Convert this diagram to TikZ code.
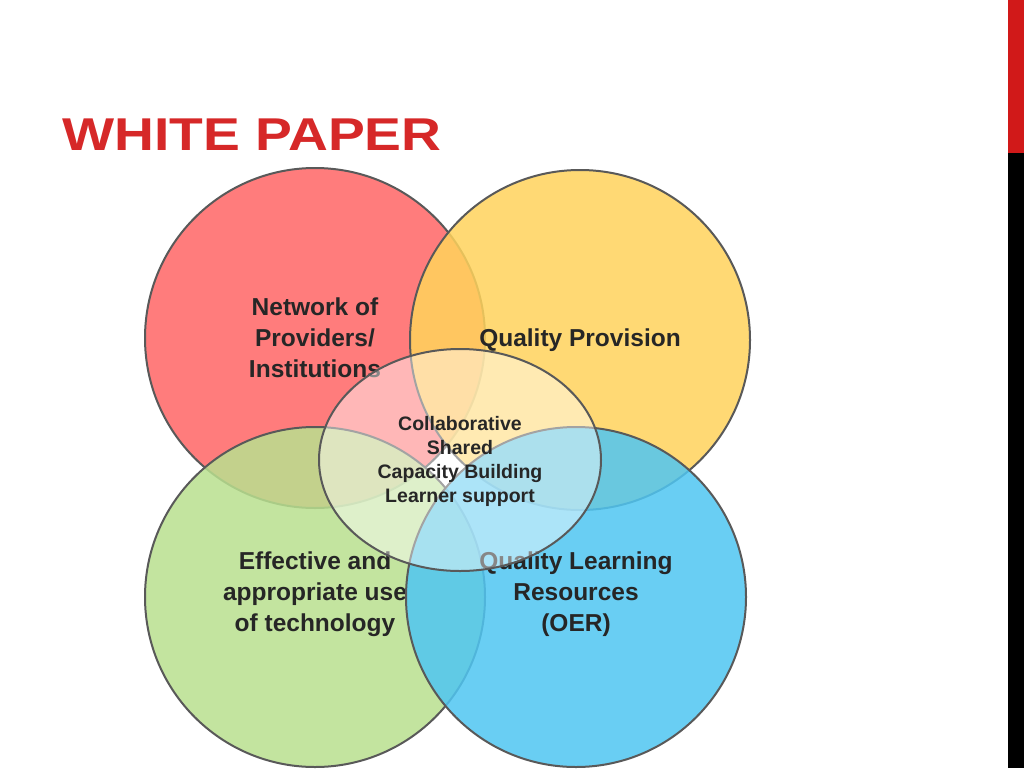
\documentclass[tikz,border=0pt]{standalone}
\usepackage{fontspec}
\setmainfont{Liberation Sans}
\begin{document}
\begin{tikzpicture}[x=1pt,y=-1pt,
  circ/.style={draw=black!65,line width=2pt,fill opacity=0.85},
  lab/.style={font=\bfseries\fontsize{24.5}{31}\selectfont,align=center,text=black!85},
  slab/.style={font=\bfseries\fontsize{19.5}{24}\selectfont,align=center,text=black!85}]
\useasboundingbox (0,0) rectangle (1024,768);
\fill[white] (0,0) rectangle (1024,768);
\fill[red!80!black!90] (1008,0) rectangle (1024,153);
\fill[black] (1008,153) rectangle (1024,768);
\node[anchor=west,font=\bfseries\fontsize{46}{46}\selectfont,text={rgb,255:red,214;green,40;blue,40},xscale=1.2,inner sep=0pt] (title) at (62,135) {WHITE PAPER};
\definecolor{cr}{HTML}{FF6666}
\definecolor{cy}{HTML}{FFD35C}
\definecolor{cg}{HTML}{B9E08F}
\definecolor{cb}{HTML}{4FC6F2}
\draw[circ,fill=cr] (315,338) circle (170);
\node[lab] (nr) at (315,338) {Network of\\Providers/\\Institutions};
\draw[circ,fill=cy] (580,340) circle (170);
\node[lab] (ny) at (580,340) {Quality Provision};
\draw[circ,fill=cg] (315,597) circle (170);
\node[lab] (ng) at (315,594) {Effective and\\appropriate use\\of technology};
\draw[circ,fill=cb] (576,597) circle (170);
\node[lab] (nb) at (576,594) {Quality Learning\\Resources\\(OER)};
\draw[draw=black!65,line width=2pt,fill=white,fill opacity=0.45] (460,460) ellipse (141 and 111);
\node[slab] (nc) at (460,461) {Collaborative\\Shared\\Capacity Building\\Learner support};
\end{tikzpicture}
\end{document}
